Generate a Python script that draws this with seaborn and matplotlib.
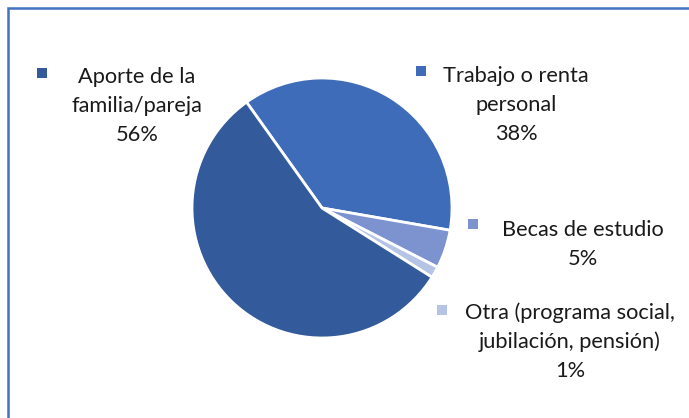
import matplotlib
matplotlib.use("Agg")
import matplotlib.pyplot as plt
from matplotlib.patches import Rectangle
import seaborn as sns

categories = ["Trabajo o renta\npersonal", "Becas de estudio",
              "Otra (programa social,\njubilación, pensión)", "Aporte de la\nfamilia/pareja"]
values = [37.6, 4.8, 1.4, 56.2]
colors = ["#3F6CB8", "#7C93D0", "#B5C3E5", "#335B9B"]

sns.set_theme(style="white")
plt.rcParams['font.family'] = ['Lato', 'DejaVu Sans']

W, H = 689, 418
fig = plt.figure(figsize=(W / 100, H / 100), dpi=100)
ax = fig.add_axes([0, 0, 1, 1])

cx, cy, r = 322, H - 208, 130
wedges, _ = ax.pie(values, colors=colors, startangle=125.5, counterclock=False,
                   center=(cx, cy), radius=r,
                   wedgeprops=dict(edgecolor="white", linewidth=2))
ax.set_xlim(0, W)
ax.set_ylim(0, H)
ax.set_aspect("equal")
ax.axis("off")

total = sum(values)
# label positions (px): square center, text center x, first baseline y
label_pos = [
    ((421, 71), (516, 82)),
    ((473, 224), (583, 236)),
    ((442, 310), (570, 319)),
    ((42, 73), (137, 83)),
]
line_step = 29
for cat, val, col, (sq, tx) in zip(categories, values, colors, label_pos):
    s = 10
    ax.add_patch(Rectangle((sq[0] - s / 2, H - sq[1] - s / 2), s, s,
                           facecolor=col, edgecolor="none"))
    pct = f"{round(val / total * 100):.0f}%"
    lines = cat.split("\n") + [pct]
    for i, ln in enumerate(lines):
        ax.text(tx[0], H - (tx[1] + i * line_step), ln, ha="center", va="baseline",
                fontsize=15.7, color="#1a1a1a")

fig.patches.append(Rectangle((8 / W, -0.1), 2, (H - 8) / H + 0.1,
                             transform=fig.transFigure,
                             facecolor="none", edgecolor="#4472C4", linewidth=1.8))

fig.savefig("out.png", dpi=100)
